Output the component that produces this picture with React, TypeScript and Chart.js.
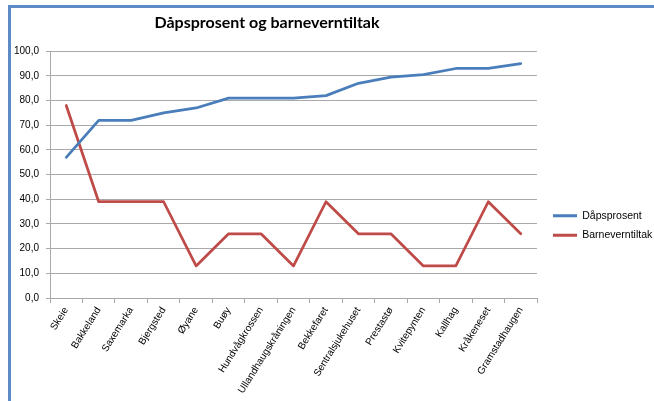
import React, { useEffect, useRef } from "react";
import { Chart, registerables } from "chart.js";

Chart.register(...registerables);

const categories = [
  "Skeie",
  "Bakkeland",
  "Saxemarka",
  "Bjergsted",
  "Øyane",
  "Buøy",
  "Hundvågkrossen",
  "Ullandhaugskråningen",
  "Bekkefaret",
  "Sentralsjukehuset",
  "Prestastø",
  "Kvitepynten",
  "Kallhag",
  "Kråkeneset",
  "Gramstadhaugen",
];
const dapsprosent = [57, 72, 72, 75, 77, 81, 81, 81, 82, 87, 89.5, 90.5, 93, 93, 95];
const barneverntiltak = [78, 39, 39, 39, 13, 26, 26, 13, 39, 26, 26, 13, 13, 39, 26];

const seriesNames = ["Dåpsprosent", "Barneverntiltak"];
const titleText = "Dåpsprosent og barneverntiltak";

const GRID = "#a9a9a9";
const TICK_FONT = { family: "'Liberation Sans', Arial, sans-serif", size: 10 };

const layoutTweak = {
  id: "layoutTweak",
  afterLayout(chart: any) {
    const t = chart.titleBlock;
    if (t) {
      t.left = 10;
      t.right = 524;
      t.width = 514;
    }
    const l = chart.legend;
    if (l) {
      l.left = chart.chartArea.right + 7;
      l.right = l.left + l.width;
      l.top = l.top + 25;
      l.bottom = l.bottom + 25;
    }
  },
};

export default function App() {
  const ref = useRef<HTMLCanvasElement>(null);

  useEffect(() => {
    if (!ref.current) return;
    const chart = new Chart(ref.current, {
      type: "line",
      data: {
        labels: categories,
        datasets: [
          {
            label: seriesNames[0],
            data: dapsprosent,
            borderColor: "#4a7ebb",
            backgroundColor: "#4a7ebb",
            borderWidth: 2.75,
            pointRadius: 0,
            tension: 0,
            borderCapStyle: "round",
            borderJoinStyle: "round",
          },
          {
            label: seriesNames[1],
            data: barneverntiltak,
            borderColor: "#be4b48",
            backgroundColor: "#be4b48",
            borderWidth: 2.75,
            pointRadius: 0,
            tension: 0,
            borderCapStyle: "round",
            borderJoinStyle: "round",
          },
        ],
      },
      options: {
        responsive: false,
        animation: false,
        layout: { padding: { left: 0, right: 0, top: 0, bottom: 0 } },
        plugins: {
          tooltip: { enabled: false },
          title: {
            display: true,
            text: titleText,
            color: "#000",
            font: { family: "Lato, 'Liberation Sans', sans-serif", size: 16, weight: "bold" },
            padding: { top: 13, bottom: 19 },
          },
          legend: {
            position: "right",
            maxWidth: 117,
            labels: {
              boxWidth: 24,
              boxHeight: 3,
              padding: 9,
              color: "#000",
              font: { family: "'Liberation Sans', Arial, sans-serif", size: 10.5 },
              generateLabels: (c: any) =>
                (Chart.defaults.plugins.legend.labels as any)
                  .generateLabels(c)
                  .map((it: any) => ({ ...it, lineWidth: 0 })),
            },
          },
        },
        scales: {
          x: {
            offset: true,
            grid: {
              offset: true,
              drawOnChartArea: false,
              drawTicks: true,
              tickLength: 5,
              color: GRID,
            },
            border: { color: GRID, width: 1 },
            ticks: {
              autoSkip: false,
              minRotation: 58,
              maxRotation: 58,
              padding: 2,
              color: "#000",
              font: TICK_FONT,
            },
            afterFit: (s: any) => {
              s.height = 103;
            },
          },
          y: {
            min: 0,
            max: 100,
            ticks: {
              stepSize: 10,
              padding: 7,
              color: "#000",
              font: TICK_FONT,
              callback: (v: any) => Number(v).toFixed(1).replace(".", ","),
            },
            grid: { color: GRID, tickLength: 4, drawTicks: true },
            border: { color: GRID, width: 1 },
            afterFit: (s: any) => {
              s.width = 50;
            },
          },
        },
      },
      plugins: [layoutTweak],
    });
    return () => chart.destroy();
  }, []);

  return (
    <div
      style={{
        position: "fixed",
        left: 0,
        top: 0,
        width: 654,
        height: 401,
        background: "#fff",
        overflow: "hidden",
      }}
    >
      <canvas ref={ref} width={654} height={401} style={{ position: "absolute", left: 0, top: 0 }} />
      <div
        style={{
          position: "absolute",
          left: 8,
          top: 5,
          width: 700,
          height: 500,
          borderLeft: "3px solid #5b8ac6",
          borderTop: "3px solid #5b8ac6",
          pointerEvents: "none",
        }}
      />
    </div>
  );
}
